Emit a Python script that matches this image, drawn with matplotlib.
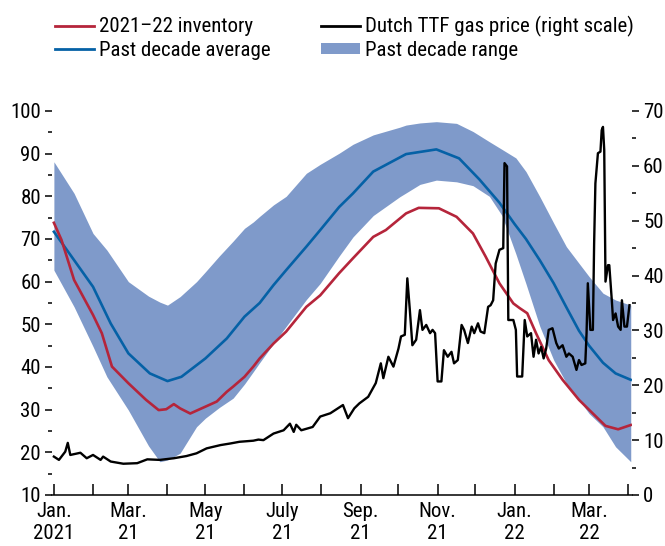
import matplotlib
matplotlib.use("Agg")
import matplotlib.pyplot as plt
from matplotlib.patches import Patch
from matplotlib.lines import Line2D
from matplotlib.ticker import MultipleLocator
import pandas as pd

plt.rcParams['font.family'] = ['Roboto Condensed', 'Archivo Narrow', 'DejaVu Sans']

START = pd.Timestamp('2021-01-01')

# Past decade range and average (day offsets from Jan 1, 2021)
range_days = [0, 16, 31, 42, 59, 75, 84, 90, 100, 113, 120, 131, 142, 151, 158, 163, 174, 184,
              200, 211, 226, 237, 253, 274, 279, 290, 303, 319, 332, 345, 355, 366, 374, 385,
              396, 406, 416, 424, 435, 445, 457]
range_top = [88.1, 80.7, 71.3, 67.4, 60.0, 56.6, 55.2, 54.5, 56.5, 60.0, 62.3, 66.0, 69.5, 72.5,
             74.0, 75.3, 78.0, 80.0, 85.4, 87.5, 90.1, 92.2, 94.4, 96.2, 96.7, 97.2, 97.5, 97.1,
             95.2, 92.8, 91.0, 89.0, 85.8, 79.9, 73.7, 68.2, 64.3, 61.2, 57.3, 55.7, 54.5]
range_bottom = [62.7, 54.1, 44.8, 37.7, 29.9, 21.5, 17.8, 18.2, 19.8, 26.0, 28.0, 30.5, 32.7, 36.0,
                38.9, 41.0, 45.5, 49.5, 55.8, 59.6, 66.0, 70.5, 75.5, 79.9, 80.8, 82.8, 83.8, 83.4,
                82.5, 80.0, 75.5, 66.5, 59.5, 49.5, 41.6, 36.2, 32.3, 29.1, 26.0, 21.3, 17.8]

avg_days = [0, 13, 31, 45, 59, 76, 90, 101, 120, 137, 151, 163, 174, 184, 200, 211, 226, 237,
            253, 279, 303, 321, 337, 353, 365, 374, 385, 396, 406, 416, 424, 435, 445, 457]
avg_vals = [71.7, 66.3, 58.8, 50.2, 43.2, 38.5, 36.7, 37.7, 42.0, 46.7, 51.8, 55.0, 59.2, 62.7,
            68.2, 72.1, 77.5, 80.7, 85.8, 89.9, 91.0, 88.9, 84.0, 78.5, 73.5, 70.0, 65.0, 59.6,
            54.0, 48.5, 45.0, 41.0, 38.5, 37.0]

# 2021-22 inventory
inv_days = [0, 6, 16, 31, 38, 46, 59, 73, 83, 89, 95, 100, 108, 120, 129, 137, 142, 151, 158,
            163, 174, 184, 200, 211, 226, 237, 253, 263, 279, 289, 305, 319, 332, 342, 353, 364,
            369, 375, 382, 392, 403, 416, 427, 437, 447, 457]
inv_vals = [73.8, 69.8, 60.4, 52.2, 47.9, 40.1, 36.2, 32.3, 29.9, 30.1, 31.3, 30.3, 29.1, 30.7,
            31.9, 34.2, 35.4, 37.7, 40.1, 42.0, 45.5, 48.3, 54.1, 56.8, 62.0, 65.5, 70.5, 72.1,
            76.0, 77.3, 77.2, 75.2, 71.3, 65.9, 59.6, 54.9, 53.8, 52.6, 47.9, 41.6, 37.0, 32.3,
            29.1, 26.2, 25.4, 26.4]

# Dutch TTF gas price (right scale)
gas_days = [0, 4, 9, 11, 13, 21, 26, 31, 37, 39, 45, 55, 66, 74, 84, 95, 105, 113, 121, 132,
            140, 147, 158, 162, 166, 174, 182, 187, 190, 192, 196, 205, 211, 219, 225, 229, 233,
            238, 242, 249, 255, 259, 261, 265, 269, 273, 275, 278, 280, 282, 284, 287, 290, 292,
            295, 298, 300, 302, 304, 307, 309, 312, 315, 317, 320, 323, 325, 328, 331, 333, 336,
            338, 341, 344, 346, 348, 350, 353, 356, 357, 359, 360, 364, 366, 367, 371, 373, 375,
            378, 380, 382, 384, 386, 388, 390, 392, 395, 398, 400, 403, 406, 408, 411, 414, 416,
            418, 421, 422, 423, 425, 427, 428, 429, 431, 433, 434, 435, 436, 437, 439, 440, 442,
            443, 445, 447, 449, 450, 452, 454, 456]
gas_vals = [7.0, 6.4, 7.9, 9.5, 7.3, 7.7, 6.7, 7.3, 6.4, 7.0, 6.1, 5.7, 5.8, 6.5, 6.4, 6.7, 7.1,
            7.6, 8.5, 9.1, 9.4, 9.7, 9.9, 10.1, 10.0, 11.2, 11.8, 13.0, 11.5, 12.8, 11.8, 12.4,
            14.3, 14.9, 15.8, 16.4, 14.0, 15.8, 16.7, 17.9, 20.4, 24.0, 21.3, 25.2, 23.4, 26.7,
            28.9, 29.2, 39.5, 33.7, 27.3, 28.3, 33.7, 30.1, 31.0, 29.5, 30.1, 29.5, 20.7, 20.7,
            26.4, 25.2, 26.1, 24.0, 24.6, 31.0, 30.1, 27.7, 30.7, 29.5, 31.3, 29.8, 29.5, 34.3,
            34.6, 35.5, 42.2, 44.7, 45.0, 60.5, 59.9, 31.9, 31.9, 30.1, 21.6, 21.6, 31.9, 28.9,
            29.5, 25.2, 28.3, 25.8, 27.0, 24.9, 26.7, 30.1, 30.4, 27.7, 26.7, 27.3, 25.2, 25.8,
            25.2, 22.8, 24.6, 23.7, 24.0, 29.5, 38.6, 30.1, 30.1, 45.9, 56.8, 62.3, 62.6, 66.5,
            67.1, 62.9, 38.9, 41.9, 41.9, 35.5, 31.9, 33.1, 30.7, 30.1, 35.5, 30.7, 30.7, 34.6]

tick_labels = ['Jan.\n2021', '', 'Mar.\n21', '', 'May\n21', '', 'July\n21', '', 'Sep.\n21', '',
               'Nov.\n21', '', 'Jan.\n22', '', 'Mar.\n22', '']

legend_labels = ['2021\u201322 inventory', 'Past decade average',
                 'Dutch TTF gas price (right scale)', 'Past decade range']

RED = '#B5253B'
BLUE = '#0561A6'
FILL = '#7F9ACA'


def to_dates(days):
    return START + pd.to_timedelta(days, unit='D')


W, H = 665, 546
fig = plt.figure(figsize=(W / 100, H / 100), dpi=100)
ax = fig.add_axes([52 / W, (H - 495) / H, (632 - 52) / W, (495 - 111) / H])
ax2 = ax.twinx()

ax.fill_between(to_dates(range_days), range_bottom, range_top, color=FILL, lw=0, zorder=1)
ax.plot(to_dates(avg_days), avg_vals, color=BLUE, lw=1.9, zorder=3)
ax.plot(to_dates(inv_days), inv_vals, color=RED, lw=1.9, zorder=3)
ax2.plot(to_dates(gas_days), gas_vals, color='black', lw=1.7, zorder=4)

ax.set_ylim(10, 100)
ax2.set_ylim(0, 70)
ax.set_xlim(START - pd.Timedelta(days=1.5), START + pd.Timedelta(days=458))

fs = 15
ax.yaxis.set_major_locator(MultipleLocator(10))
ax.yaxis.set_minor_locator(MultipleLocator(5))
ax2.yaxis.set_major_locator(MultipleLocator(10))
ax2.yaxis.set_minor_locator(MultipleLocator(5))

month_ticks = pd.date_range('2021-01-01', '2022-04-01', freq='MS')
ax.set_xticks(month_ticks)
ax.set_xticklabels(tick_labels, fontsize=fs, linespacing=1.2)
ax.tick_params(axis='x', direction='in', length=8, width=1.1, pad=5)
ax.tick_params(axis='y', which='major', direction='out', length=5, width=1.1, labelsize=fs, pad=3)
ax.tick_params(axis='y', which='minor', direction='out', length=3, width=1.1)
ax2.tick_params(axis='y', which='major', direction='out', length=5, width=1.1, labelsize=fs, pad=3)
ax2.tick_params(axis='y', which='minor', direction='out', length=3, width=1.1)

for a in (ax, ax2):
    for s in ('left', 'right', 'top'):
        a.spines[s].set_visible(False)
ax.spines['bottom'].set_linewidth(1.1)
ax2.spines['bottom'].set_visible(False)

handles = [Line2D([], [], color=RED, lw=2),
           Line2D([], [], color=BLUE, lw=2),
           Line2D([], [], color='black', lw=2),
           Patch(facecolor=FILL, edgecolor='none')]
leg = fig.legend(handles, legend_labels, ncol=2, loc='upper left',
                 bbox_to_anchor=(55 / W, 1 - 16 / H), frameon=False, fontsize=fs,
                 handlelength=1.85, handleheight=0.45, handletextpad=0.25,
                 columnspacing=2.45, labelspacing=0.2, borderpad=0, borderaxespad=0)

fig.savefig('out.png', dpi=100)
